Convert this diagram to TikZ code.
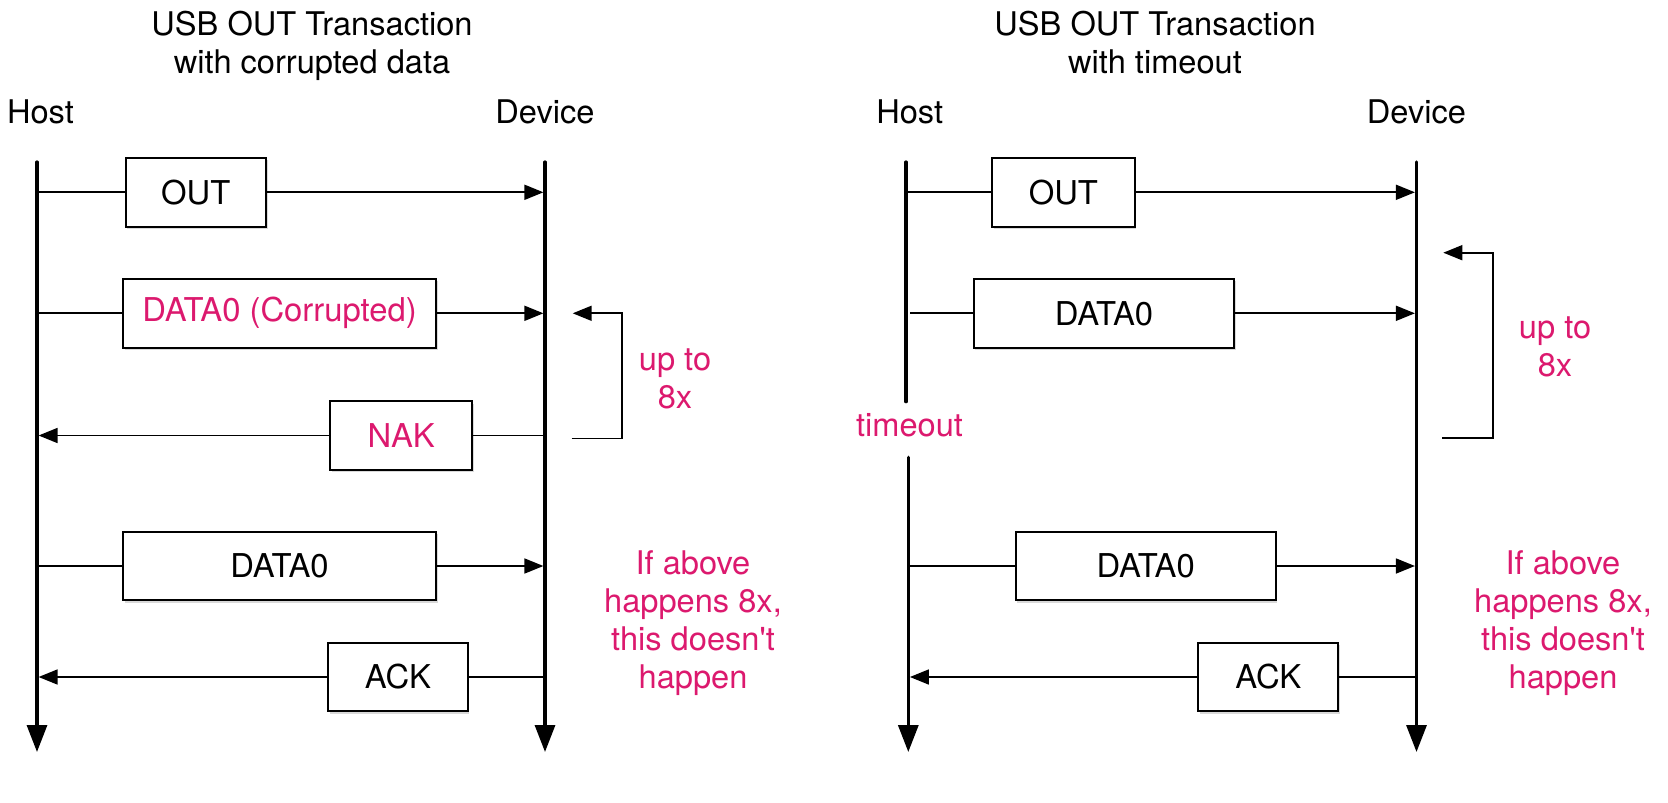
\documentclass[tikz,border=0pt]{standalone}
\usepackage{fontspec}
\setmainfont{TeX Gyre Heros}[Ligatures=TeXOff]
\usetikzlibrary{arrows.meta,shadows}
\definecolor{usbpink}{RGB}{220,25,110}
\begin{document}
\begin{tikzpicture}[x=0.5pt,y=-0.5pt,
  life/.style={line width=1.6pt,line cap=round,-{Triangle[length=13.5pt,width=10pt]}},
  plainlife/.style={line width=1.6pt,line cap=round},
  msg/.style={line width=0.85pt,-{Triangle[length=9.5pt,width=7.5pt]}},
  wire/.style={line width=0.85pt},
  pkt/.style={draw,line width=1pt,fill=white,inner sep=0pt,minimum height=34.3pt,
    font=\fontsize{16.4}{19}\selectfont,
    drop shadow={shadow xshift=0.8pt,shadow yshift=-1.2pt,opacity=0.3}},
  lbl/.style={inner sep=0pt,anchor=base,font=\fontsize{16.3}{19}\selectfont},
  multi/.style={lbl,align=center},
  pinktxt/.style={text=usbpink}
]
\useasboundingbox (0,0) rectangle (1668,802);

% ---------------- Left diagram ----------------
\node[multi] (t1) at (312,74) {USB OUT Transaction\\with corrupted data};
\node[lbl] (host1) at (40.5,123.3) {Host};
\node[lbl] (dev1) at (545,123.3) {Device};

\coordinate (h1t) at (37,162);
\coordinate (h1b) at (37,752);
\coordinate (d1t) at (545,162);
\coordinate (d1b) at (545,752);
\draw[life] (h1t) -- (h1b);
\draw[life] (d1t) -- (d1b);

\node[pkt,minimum width=70.25pt] (out1) at (195.75,192.3) {OUT};
\node[pkt,minimum width=156.5pt,text=usbpink] (dc1) at (279.5,313.3) {DATA0 (Corrupted)};
\node[pkt,minimum width=71.2pt,text=usbpink] (nak1) at (401.2,435.5) {NAK};
\node[pkt,minimum width=156.5pt] (d01) at (279.5,566) {DATA0};
\node[pkt,minimum width=69.9pt] (ack1) at (397.9,677) {ACK};

\draw[wire] (h1t |- out1) -- (out1);
\draw[msg,shorten >=0.8pt] (out1) -- (d1t |- out1);
\draw[wire] (h1t |- dc1) -- (dc1);
\draw[msg,shorten >=0.8pt] (dc1) -- (d1t |- dc1);
\draw[wire] (d1t |- nak1) -- (nak1);
\draw[msg,shorten >=0.8pt] (nak1) -- (h1t |- nak1);
\draw[wire] (h1t |- d01) -- (d01);
\draw[msg,shorten >=0.8pt] (d01) -- (d1t |- d01);
\draw[wire] (d1t |- ack1) -- (ack1);
\draw[msg,shorten >=0.8pt] (ack1) -- (h1t |- ack1);

\coordinate (l1a) at (571.7,438.5);
\coordinate (l1b) at (621.7,438.5);
\coordinate (l1c) at (621.7,313.3);
\coordinate (l1d) at (572.7,313.3);
\draw[msg] (l1a) -- (l1b) -- (l1c) -- (l1d);
\node[multi,pinktxt] (up1) at (675,408.3) {up to\\8x};
\node[multi,pinktxt] (if1) at (693,688.3) {If above\\happens 8x,\\this doesn't\\happen};

% ---------------- Right diagram ----------------
\node[multi] (t2) at (1155,74) {USB OUT Transaction\\with timeout};
\node[lbl] (host2) at (909.7,123.3) {Host};
\node[lbl] (dev2) at (1416.5,123.3) {Device};

\coordinate (h2t) at (906,162);
\coordinate (h2m) at (906,401.7);
\coordinate (h2n) at (908.3,457.3);
\coordinate (h2b) at (908.3,752);
\coordinate (d2t) at (1416.5,162);
\coordinate (d2b) at (1416.5,752);
\draw[plainlife] (h2t) -- (h2m);
\draw[life] (h2n) -- (h2b);
\draw[life] (d2t) -- (d2b);
\node[lbl,pinktxt] (tmo) at (909.5,436.7) {timeout};

\node[pkt,minimum width=71.4pt] (out2) at (1063.4,192.3) {OUT};
\node[pkt,minimum width=130.3pt] (da2) at (1104,313.3) {DATA0};
\node[pkt,minimum width=130.1pt] (db2) at (1145.7,566) {DATA0};
\node[pkt,minimum width=70pt] (ack2) at (1268.3,677) {ACK};

\draw[wire] (h2t |- out2) -- (out2);
\draw[msg,shorten >=0.8pt] (out2) -- (d2t |- out2);
\draw[wire] ([xshift=2pt]h2t |- da2) -- (da2);
\draw[msg,shorten >=0.8pt] (da2) -- (d2t |- da2);
\draw[wire] (h2n |- db2) -- (db2);
\draw[msg,shorten >=0.8pt] (db2) -- (d2t |- db2);
\draw[wire] (d2t |- ack2) -- (ack2);
\draw[msg,shorten >=0.8pt] (ack2) -- (h2n |- ack2);

\coordinate (l2a) at (1442.3,438.3);
\coordinate (l2b) at (1492.7,438.3);
\coordinate (l2c) at (1492.7,252.7);
\coordinate (l2d) at (1443.3,252.7);
\draw[msg] (l2a) -- (l2b) -- (l2c) -- (l2d);
\node[multi,pinktxt] (up2) at (1555,376.7) {up to\\8x};
\node[multi,pinktxt] (if2) at (1563,688.3) {If above\\happens 8x,\\this doesn't\\happen};
\end{tikzpicture}
\end{document}
